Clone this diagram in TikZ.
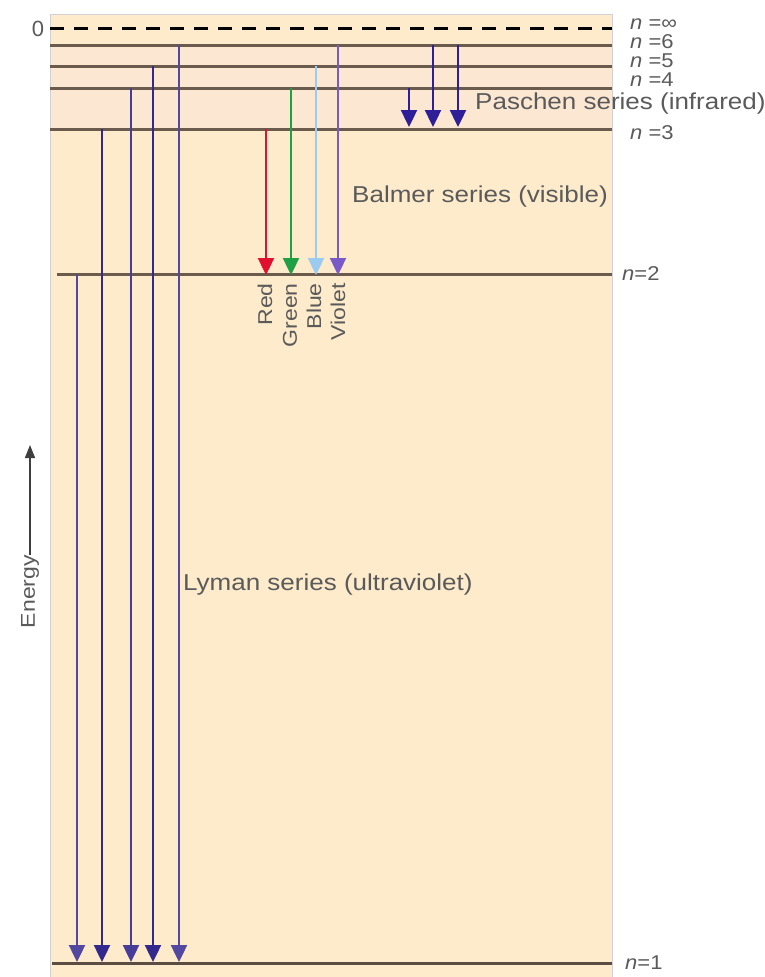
\documentclass[tikz,border=0pt]{standalone}
\usepackage{fontspec}
\setmainfont{Liberation Sans}
\usetikzlibrary{arrows.meta}
\definecolor{bgpeach}{HTML}{FDEBCB}
\definecolor{bgpink}{HTML}{FCE7D3}
\definecolor{levelc}{HTML}{6B5B4C}
\definecolor{txtc}{HTML}{5A5A5A}
\definecolor{lymanc}{HTML}{33288E}
\definecolor{paschenc}{HTML}{2E1F99}
\definecolor{redc}{HTML}{E0102E}
\definecolor{greenc}{HTML}{1FA044}
\definecolor{bluec}{HTML}{9CCBF2}
\definecolor{violetc}{HTML}{7A5AC8}
\tikzset{
  level/.style={draw=levelc, line width=3pt},
  trans/.style={line width=2.4pt, -{Triangle[width=16pt,length=17pt]}},
  lbl/.style={text=txtc, font=\fontsize{23}{23}\selectfont, xscale=1.13, inner sep=0pt},
  nlbl/.style={text=txtc, font=\fontsize{20}{20}\selectfont, inner sep=0pt, anchor=west, xscale=1.1},
  clbl/.style={text=txtc, font=\fontsize{20}{20}\selectfont, rotate=90, anchor=east, inner sep=0pt, xscale=1.15},
}
\begin{document}
\begin{tikzpicture}[x=1pt,y=-1pt]
\useasboundingbox (0,0) rectangle (764,977);
% background box
\fill[bgpeach] (50,14) rectangle (612,977);
\fill[bgpink] (50,45) rectangle (612,129);
\draw[draw=black!18, line width=0.8pt] (50,977) -- (50,14) -- (612,14) -- (612,977);
% levels
\draw[black, line width=3pt, dash pattern=on 14pt off 10pt] (50,28) -- (612,28);
\draw[level] (50,45) -- (612,45);
\draw[level] (50,66) -- (612,66);
\draw[level] (50,88) -- (612,88);
\draw[level] (50,129) -- (612,129);
\draw[level] (57,274) -- (612,274);
\draw[level, draw=levelc!85!black] (52,963) -- (612,963);
% Lyman
\draw[trans, lymanc!85] (77,274) -- (77,962);
\draw[trans, lymanc] (102,129) -- (102,962);
\draw[trans, lymanc!90] (131,88) -- (131,962);
\draw[trans, lymanc] (153,66) -- (153,962);
\draw[trans, lymanc!85] (179,45) -- (179,962);
% Balmer
\draw[trans, redc] (266,129) -- (266,275);
\draw[trans, greenc] (291,88) -- (291,275);
\draw[trans, bluec] (316,66) -- (316,275);
\draw[trans, violetc] (338,45) -- (338,275);
% Paschen
\draw[trans, paschenc] (409,88) -- (409,127);
\draw[trans, paschenc] (433,45) -- (433,127);
\draw[trans, paschenc] (458,45) -- (458,127);
% labels
\node[lbl, anchor=west] (pas) at (475,104) {Paschen series (infrared)};
\node[lbl, anchor=west] (bal) at (352,197) {Balmer series (visible)};
\node[lbl, anchor=west] (lym) at (183,585) {Lyman series (ultraviolet)};
\node[text=txtc, font=\fontsize{22}{22}\selectfont, inner sep=0pt] (zero) at (38,29) {0};
\node[nlbl] (ninf) at (630,24) {\textit{n} =∞};
\node[nlbl] (n6) at (630,42) {\textit{n} =6};
\node[nlbl] (n5) at (630,61) {\textit{n} =5};
\node[nlbl] (n4) at (630,80) {\textit{n} =4};
\node[nlbl] (n3) at (630,133) {\textit{n} =3};
\node[nlbl] (n2) at (622,274) {\textit{n}=2};
\node[nlbl] (n1) at (625,963) {\textit{n}=1};
\node[clbl] (red) at (265,283) {Red};
\node[clbl] (green) at (290,283) {Green};
\node[clbl] (blue) at (314,283) {Blue};
\node[clbl] (violet) at (338,283) {Violet};
% Energy axis
\node[clbl] (energy) at (30,555) {Energy};
\draw[txtc!70!black, line width=1.5pt, -{Triangle[width=10pt,length=13pt]}] (energy.east) -- (30,445);
\end{tikzpicture}
\end{document}
